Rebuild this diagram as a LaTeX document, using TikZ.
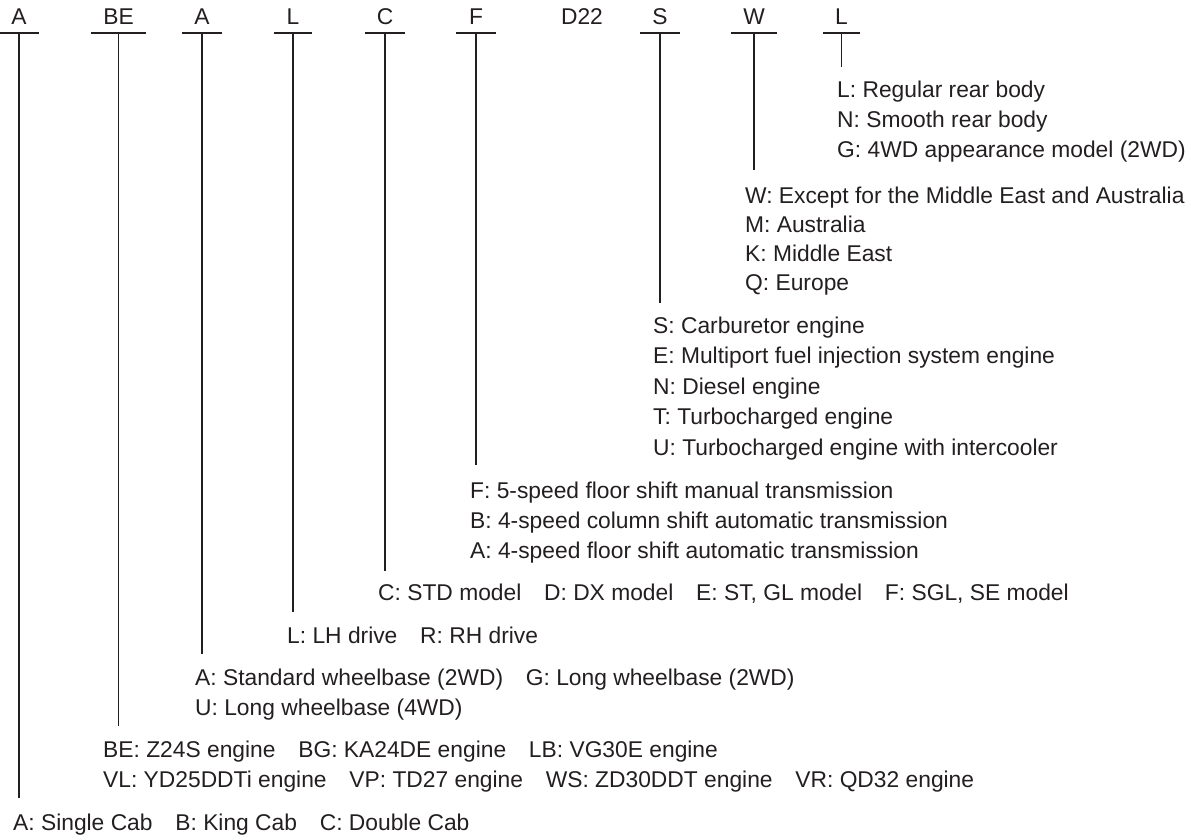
\documentclass[tikz,border=0pt]{standalone}
\usepackage{fontspec}
\setmainfont{Liberation Sans}
\begin{document}
\begin{tikzpicture}[x=1pt,y=-1pt,
  every node/.style={inner sep=0pt, text=ink, font=\fontsize{22.8}{27}\selectfont},
  code/.style={anchor=base, text depth=9pt},
  item/.style={anchor=base west},
  bar/.style={draw=ink, line width=2pt},
  stem/.style={draw=ink, line width=1.3pt}]
\definecolor{ink}{HTML}{231F20}
\useasboundingbox (0,0) rectangle (1191,839);
% code letters
\node[code, minimum width=39pt] (kA) at (19,24) {A};
\node[code, minimum width=55pt] (kBE) at (118.5,24) {BE};
\node[code, minimum width=40pt] (kA2) at (202,24) {A};
\node[code, minimum width=38pt] (kL) at (293,24) {L};
\node[code, minimum width=40pt] (kC) at (385,24) {C};
\node[code, minimum width=39pt] (kF) at (476,24) {F};
\node[code] (kD) at (582,24) {D22};
\node[code, minimum width=40pt] (kS) at (660,24) {S};
\node[code, minimum width=46pt] (kW) at (754,24) {W};
\node[code, minimum width=37pt] (kL2) at (841.5,24) {L};
\foreach \n in {kA,kBE,kA2,kL,kC,kF,kS,kW,kL2}{
  \draw[bar] (\n.south west) -- (\n.south east);
}
% stem ends
\coordinate (eA) at (19,798);
\coordinate (eBE) at (118.5,726);
\coordinate (eA2) at (202,654);
\coordinate (eL) at (293,612);
\coordinate (eC) at (385,571);
\coordinate (eF) at (476,465);
\coordinate (eS) at (660,303);
\coordinate (eW) at (754,170);
\coordinate (eL2) at (841.5,67);
\draw[stem] (kA.south) -- (eA);
\draw[stem] (kBE.south) -- (eBE);
\draw[stem] (kA2.south) -- (eA2);
\draw[stem] (kL.south) -- (eL);
\draw[stem] (kC.south) -- (eC);
\draw[stem] (kF.south) -- (eF);
\draw[stem] (kS.south) -- (eS);
\draw[stem] (kW.south) -- (eW);
\draw[stem] (kL2.south) -- (eL2);
% rear body
\node[item] (l1) at (837,97) {L: Regular rear body};
\node[item] (l2) at (837,127) {N: Smooth rear body};
\node[item] (l3) at (837,157) {G: 4WD appearance model (2WD)};
% destination
\node[item] (w1) at (745,203) {W: Except for the Middle East and Australia};
\node[item] (w2) at (745,232) {M: Australia};
\node[item] (w3) at (745,261) {K: Middle East};
\node[item] (w4) at (745,290) {Q: Europe};
% engine type
\node[item] (s1) at (653,333) {S: Carburetor engine};
\node[item] (s2) at (653,363) {E: Multiport fuel injection system engine};
\node[item] (s3) at (653,394) {N: Diesel engine};
\node[item] (s4) at (653,424) {T: Turbocharged engine};
\node[item] (s5) at (653,455) {U: Turbocharged engine with intercooler};
% transmission
\node[item] (f1) at (470,498) {F: 5-speed floor shift manual transmission};
\node[item] (f2) at (470,528) {B: 4-speed column shift automatic transmission};
\node[item] (f3) at (470,558) {A: 4-speed floor shift automatic transmission};
% grade
\node[item] (c1) at (378,600) {C: STD model\quad D: DX model\quad E: ST, GL model\quad F: SGL, SE model};
% drive
\node[item] (r1) at (287,643) {L: LH drive\quad R: RH drive};
% wheelbase
\node[item] (a1) at (195,685) {A: Standard wheelbase (2WD)\quad G: Long wheelbase (2WD)};
\node[item] (a2) at (195,715) {U: Long wheelbase (4WD)};
% engine
\node[item] (b1) at (103,757) {BE: Z24S engine\quad BG: KA24DE engine\quad LB: VG30E engine};
\node[item] (b2) at (103,787) {VL: YD25DDTi engine\quad VP: TD27 engine\quad WS: ZD30DDT engine\quad VR: QD32 engine};
% body
\node[item] (c0) at (13,830) {A: Single Cab\quad B: King Cab\quad C: Double Cab};
\end{tikzpicture}
\end{document}
